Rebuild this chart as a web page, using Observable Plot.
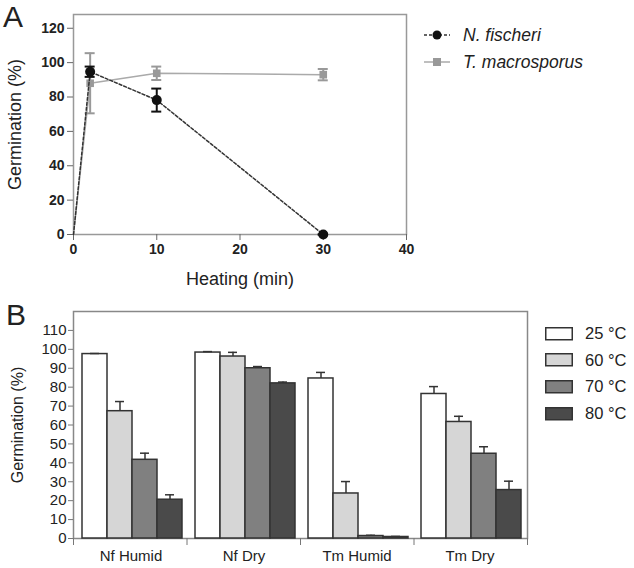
<!DOCTYPE html>
<html><head><meta charset="utf-8">
<script src="https://cdn.jsdelivr.net/npm/d3@7"></script>
<script src="https://cdn.jsdelivr.net/npm/@observablehq/plot@0.6"></script>
<style>
body{margin:0;background:#fff;font-family:"Liberation Sans",Arial,sans-serif;color:#222}
#wrap{position:relative;width:634px;height:568px;overflow:hidden}
.abs{position:absolute}
.letter{font-size:30px;line-height:30px}
.lrow{position:absolute;display:flex;align-items:center;height:20px;white-space:nowrap}
.lrow svg{display:block}
</style></head><body><div id="wrap"></div>
<script>
// ---------- Panel A data ----------
const heatTimes = [0, 2, 10, 30];
const nfMean = [0, 94.7, 78.2, 0];
const nfErr = [0, 3, 6.7, 0];
const tmMean = [0, 88, 93.8, 93];
const tmErr = [0, 17.5, 3.9, 3.3];
const seriesA = ["N. fischeri", "T. macrosporus"];
const xTicksA = [0, 10, 20, 30, 40];
const yTicksA = [0, 20, 40, 60, 80, 100, 120];

// ---------- Panel B data ----------
const groups = ["Nf Humid", "Nf Dry", "Tm Humid", "Tm Dry"];
const temps = ["25 °C", "60 °C", "70 °C", "80 °C"];
const mean25 = [97.5, 98.3, 84.6, 76.4];
const err25 = [0.3, 0.5, 3.2, 3.9];
const mean60 = [67.3, 96.2, 23.8, 61.6];
const err60 = [5.1, 2.2, 6.3, 3.0];
const mean70 = [41.6, 90.0, 1.3, 44.8];
const err70 = [3.5, 0.9, 0.4, 3.7];
const mean80 = [20.5, 82.0, 0.8, 25.6];
const err80 = [2.6, 0.7, 0.3, 4.7];
const yTicksB = [0, 10, 20, 30, 40, 50, 60, 70, 80, 90, 100, 110];

const FONT = '"Liberation Sans", Arial, sans-serif';
const wrap = document.getElementById("wrap");

// ---------- Panel A ----------
const nf = heatTimes.map((t, i) => ({t, m: nfMean[i], e: nfErr[i]}));
const tm = heatTimes.map((t, i) => ({t, m: tmMean[i], e: tmErr[i]}));
const nfPts = nf.filter(d => d.t > 0);
const tmPts = tm.filter(d => d.t > 0);

const chartA = Plot.plot({
  width: 420, height: 290,
  marginLeft: 73, marginRight: 14, marginTop: 14, marginBottom: 56,
  style: {fontFamily: FONT, background: "transparent", color: "#222", overflow: "visible"},
  x: {domain: [0, 40]},
  y: {domain: [0, 128]},
  marks: [
    Plot.frame({stroke: "#999", strokeWidth: 1.5}),
    Plot.axisY(yTicksA, {tickSize: 6, tickPadding: 3, fontSize: 14, fontWeight: "bold", stroke: "#666", label: null}),
    Plot.axisX(xTicksA, {tickSize: 6, tickPadding: 4, fontSize: 14, fontWeight: "bold", stroke: "#666", label: null}),
    Plot.text(["Germination (%)"], {frameAnchor: "left", textAnchor: "middle", rotate: -90, dx: -58, fontSize: 18, fill: "#222"}),
    Plot.text(["Heating (min)"], {frameAnchor: "bottom", dy: 50, fontSize: 18, fill: "#222"}),
    // T. macrosporus
    Plot.line(tm, {x: "t", y: "m", stroke: "#aaa", strokeWidth: 1.5}),
    Plot.ruleX(tmPts, {x: "t", y1: d => d.m - d.e, y2: d => d.m + d.e, stroke: "#999", strokeWidth: 2}),
    Plot.ruleY(tmPts, {y: d => d.m + d.e, x1: "t", x2: "t", insetLeft: -5, insetRight: -5, stroke: "#999", strokeWidth: 2}),
    Plot.ruleY(tmPts, {y: d => d.m - d.e, x1: "t", x2: "t", insetLeft: -5, insetRight: -5, stroke: "#999", strokeWidth: 2}),
    Plot.dot(tmPts, {x: "t", y: "m", symbol: "square", r: 4.3, fill: "#999", stroke: "none"}),
    // N. fischeri
    Plot.line(nf, {x: "t", y: "m", stroke: "#333", strokeWidth: 1.5, strokeDasharray: "3,2"}),
    Plot.ruleX(nfPts, {x: "t", y1: d => d.m - d.e, y2: d => d.m + d.e, stroke: "#111", strokeWidth: 2}),
    Plot.ruleY(nfPts, {y: d => d.m + d.e, x1: "t", x2: "t", insetLeft: -5, insetRight: -5, stroke: "#111", strokeWidth: 2}),
    Plot.ruleY(nfPts, {y: d => d.m - d.e, x1: "t", x2: "t", insetLeft: -5, insetRight: -5, stroke: "#111", strokeWidth: 2}),
    Plot.dot(nfPts, {x: "t", y: "m", r: 5, fill: "#111", stroke: "none"})
  ]
});
chartA.style.position = "absolute"; chartA.style.left = "0px"; chartA.style.top = "0px";
wrap.appendChild(chartA);

// ---------- Panel B ----------
const meansB = [mean25, mean60, mean70, mean80];
const errsB = [err25, err60, err70, err80];
const fillsB = ["#ffffff", "#d6d6d6", "#808080", "#4a4a4a"];
const rows = [];
temps.forEach((temp, j) => groups.forEach((g, i) => rows.push({g, temp, m: meansB[j][i], e: errsB[j][i]})));

const dimsB = {width: 540, height: 278, marginLeft: 73, marginRight: 13, marginTop: 21, marginBottom: 30};

// frame, y axis and group-boundary ticks (group index scale)
const chartBFrame = Plot.plot({
  ...dimsB,
  style: {fontFamily: FONT, background: "transparent", color: "#222", overflow: "visible"},
  x: {domain: [0, groups.length]},
  y: {domain: [0, 120]},
  marks: [
    Plot.frame({stroke: "#888", strokeWidth: 1.5}),
    Plot.axisX(d3.range(groups.length + 1), {tickSize: 7, tickFormat: () => "", stroke: "#777", label: null}),
    Plot.axisY(yTicksB, {tickSize: 5, tickPadding: 2, fontSize: 15, stroke: "#777", label: null}),
    Plot.text(["Germination (%)"], {frameAnchor: "left", textAnchor: "middle", rotate: -90, dx: -56, fontSize: 16, fill: "#222"})
  ]
});
chartBFrame.style.position = "absolute"; chartBFrame.style.left = "0px"; chartBFrame.style.top = "290px";
wrap.appendChild(chartBFrame);

// grouped bars
const chartB = Plot.plot({
  ...dimsB,
  style: {fontFamily: FONT, background: "transparent", color: "#222", overflow: "visible"},
  fx: {domain: groups, padding: 0, label: null},
  x: {domain: temps, paddingInner: 0, paddingOuter: 0.23, align: 0.6, axis: null},
  y: {domain: [0, 120], axis: null},
  color: {domain: temps, range: fillsB},
  marks: [
    Plot.axisFx({anchor: "bottom", tickSize: 0, tickPadding: 12, fontSize: 15, label: null}),
    Plot.barY(rows, {fx: "g", x: "temp", y: "m", fill: "temp", stroke: "#333", strokeWidth: 1.5}),
    Plot.ruleX(rows, {fx: "g", x: "temp", y1: "m", y2: d => d.m + d.e, stroke: "#333", strokeWidth: 1.5}),
    Plot.tickY(rows, {fx: "g", x: "temp", y: d => d.m + d.e, inset: 8, stroke: "#333", strokeWidth: 1.5})
  ]
});
chartB.style.position = "absolute"; chartB.style.left = "0px"; chartB.style.top = "290px";
wrap.appendChild(chartB);

// ---------- Panel letters ----------
function addDiv(html, cls, left, top) {
  const d = document.createElement("div");
  d.className = cls; d.style.left = left + "px"; d.style.top = top + "px";
  d.innerHTML = html; wrap.appendChild(d); return d;
}
addDiv("A", "abs letter", 3, 2);
addDiv("B", "abs letter", 6, 300);

// ---------- Legend A ----------
const legA = [
  {label: seriesA[0], stroke: "#333", dash: "3,2", marker: "circle", color: "#111"},
  {label: seriesA[1], stroke: "#aaa", dash: null, marker: "square", color: "#999"}
];
legA.forEach((s, i) => {
  const cy = [35, 62][i];
  const mk = s.marker === "circle"
    ? `<circle cx="13" cy="10" r="4.5" fill="${s.color}"/>`
    : `<rect x="9" y="6" width="8" height="8" fill="${s.color}"/>`;
  addDiv(`<svg width="26" height="20"><line x1="0" y1="10" x2="26" y2="10" stroke="${s.stroke}" stroke-width="1.5" ${s.dash ? `stroke-dasharray="${s.dash}"` : ""}/>${mk}</svg><span style="margin-left:13px;font-style:italic;font-size:17.5px">${s.label}</span>`,
    "lrow", 424, cy - 10);
});

// ---------- Legend B ----------
temps.forEach((t, i) => {
  const cy = 333.5 + i * 26.7;
  addDiv(`<svg width="28" height="14"><rect x="0.75" y="0.75" width="26.5" height="12" fill="${fillsB[i]}" stroke="#333" stroke-width="1.5"/></svg><span style="margin-left:12px;font-size:16.5px">${t}</span>`,
    "lrow", 545, cy - 10);
});
</script>
</body></html>
